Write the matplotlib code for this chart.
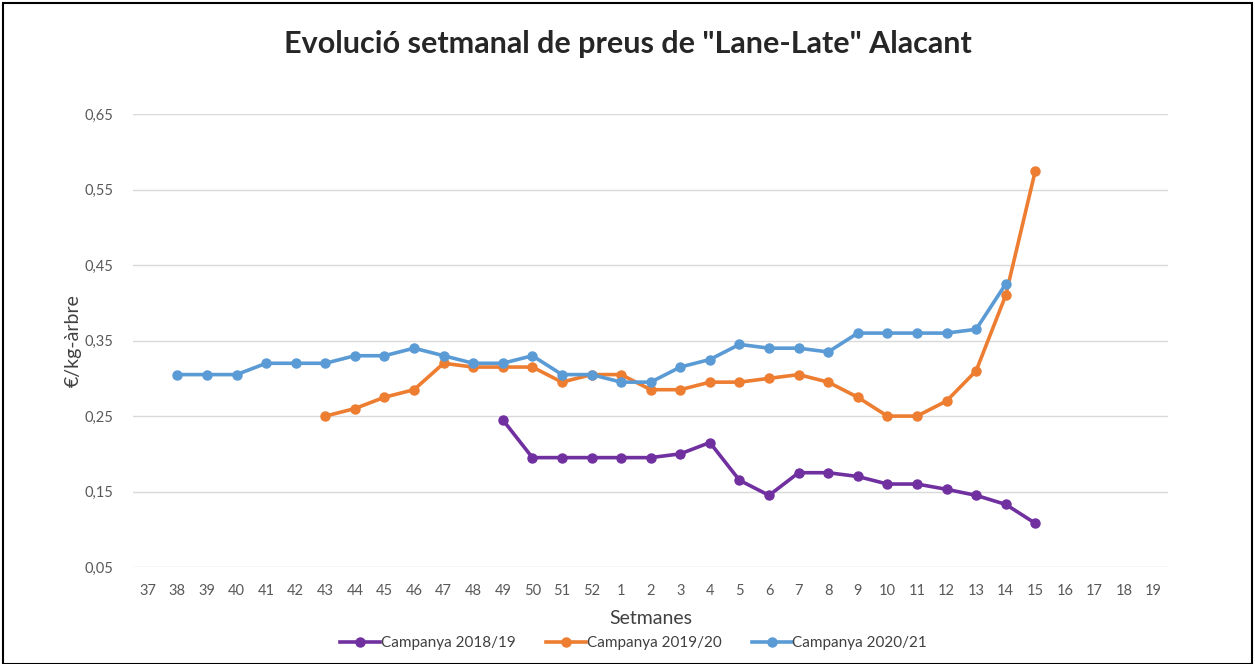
import numpy as np
import matplotlib
matplotlib.use('Agg')
import matplotlib.pyplot as plt
from matplotlib.patches import Rectangle

plt.rcParams['font.family'] = ['Lato', 'DejaVu Sans']

# setmanes (eix x)
setmanes = ['37', '38', '39', '40', '41', '42', '43', '44', '45', '46', '47', '48',
            '49', '50', '51', '52', '1', '2', '3', '4', '5', '6', '7', '8', '9',
            '10', '11', '12', '13', '14', '15', '16', '17', '18', '19']

nan = np.nan
# Campanya 2018/19
preus_1819 = [nan, nan, nan, nan, nan, nan, nan, nan, nan, nan, nan, nan,
              0.245, 0.195, 0.195, 0.195, 0.195, 0.195, 0.20, 0.215, 0.165, 0.145,
              0.175, 0.175, 0.17, 0.16, 0.16, 0.153, 0.145, 0.133, 0.108,
              nan, nan, nan, nan]
# Campanya 2019/20
preus_1920 = [nan, nan, nan, nan, nan, nan, 0.25, 0.26, 0.275, 0.285, 0.32, 0.315,
              0.315, 0.315, 0.295, 0.305, 0.305, 0.285, 0.285, 0.295, 0.295, 0.30,
              0.305, 0.295, 0.275, 0.25, 0.25, 0.27, 0.31, 0.41, 0.575,
              nan, nan, nan, nan]
# Campanya 2020/21
preus_2021 = [nan, 0.305, 0.305, 0.305, 0.32, 0.32, 0.32, 0.33, 0.33, 0.34, 0.33, 0.32,
              0.32, 0.33, 0.305, 0.305, 0.295, 0.295, 0.315, 0.325, 0.345, 0.34,
              0.34, 0.335, 0.36, 0.36, 0.36, 0.36, 0.365, 0.425,
              nan, nan, nan, nan, nan]

series = [
    ('Campanya 2018/19', preus_1819, '#7030A0'),
    ('Campanya 2019/20', preus_1920, '#ED7D31'),
    ('Campanya 2020/21', preus_2021, '#5B9BD5'),
]

fig = plt.figure(figsize=(12.55, 6.64), dpi=100)
ax = fig.add_axes([0.106, 0.146, 0.825, 0.682])

x = np.arange(len(setmanes))
for nom, vals, color in series:
    ax.plot(x, vals, color=color, lw=2.6, marker='o', ms=6.5, label=nom)

ax.set_xlim(-0.5, len(setmanes) - 0.5)
ax.set_ylim(0.05, 0.65)
ax.set_yticks([0.05, 0.15, 0.25, 0.35, 0.45, 0.55, 0.65])
ax.set_yticklabels(['0,05', '0,15', '0,25', '0,35', '0,45', '0,55', '0,65'])
ax.set_xticks(x)
ax.set_xticklabels(setmanes)
ax.tick_params(length=0, labelsize=10.5, colors='#595959', pad=12)
ax.tick_params(axis='y', pad=14)
ax.grid(axis='y', color='#d9d9d9', lw=1)
ax.set_axisbelow(True)
for s in ax.spines.values():
    s.set_visible(False)

ax.set_xlabel('Setmanes', fontsize=14, color='#404040', labelpad=9)
ax.set_ylabel('€/kg-àrbre', fontsize=14, color='#404040', labelpad=2)

fig.suptitle('Evolució setmanal de preus de "Lane-Late" Alacant', y=0.955,
             fontsize=22, fontweight='bold', color='#262626')

fig.legend(loc='lower center', bbox_to_anchor=(0.505, 0.0), ncol=3, frameon=False,
           fontsize=11, handlelength=2.6, columnspacing=2.0, labelcolor='#404040',
           handletextpad=0.05)

fig.patches.append(Rectangle((0.002, 0.0), 0.996, 0.995, transform=fig.transFigure,
                             fill=False, edgecolor='black', lw=1.5))

fig.savefig('out.png', dpi=100)
